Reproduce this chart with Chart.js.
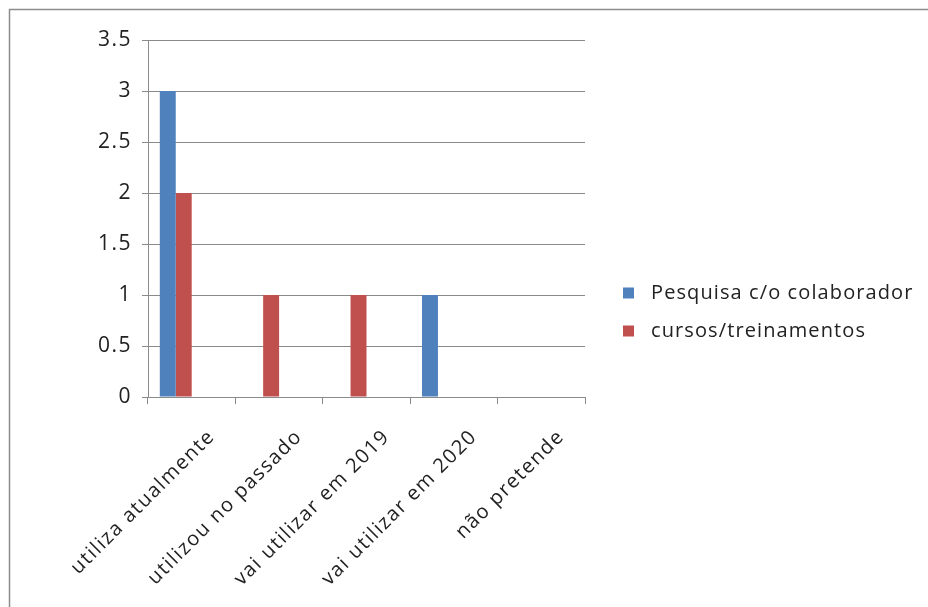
<!DOCTYPE html>
<html>
<head>
<meta charset="utf-8">
<script src="https://cdn.jsdelivr.net/npm/chart.js@4.4.1/dist/chart.umd.min.js"></script>
<style>
  html, body { margin: 0; padding: 0; background: #ffffff; }
  canvas { display: block; }
</style>
</head>
<body>
<canvas id="chart" width="928" height="607"></canvas>
<script>
// Categories and series values
const categories = ['utiliza atualmente', 'utilizou no passado', 'vai utilizar em 2019', 'vai utilizar em 2020', 'não pretende'];
const seriesNames = ['Pesquisa c/o colaborador', 'cursos/treinamentos'];
const pesquisaValues = [3, 0, 0, 1, 0];
const cursosValues = [2, 1, 1, 0, 0];
// The workbook series group has four slots; the last two hold no values
const emptySlotA = [0, 0, 0, 0, 0];
const emptySlotB = [0, 0, 0, 0, 0];
const yTickValues = [0, 0.5, 1, 1.5, 2, 2.5, 3, 3.5];

const BLUE = '#4f81bd';
const RED = '#c0504d';
const GRID = '#8a8a8a';
const TEXT = '#222222';
const FONT = "'Open Sans', 'Liberation Sans', sans-serif";

// Frame around the chart, a white background, and wider tracking for axis text
const framePlugin = {
  id: 'frame',
  beforeDraw(chart) {
    const ctx = chart.ctx;
    ctx.save();
    ctx.fillStyle = '#ffffff';
    ctx.fillRect(0, 0, chart.width, chart.height);
    ctx.strokeStyle = '#8c8c8c';
    ctx.lineWidth = 1.5;
    ctx.beginPath();
    ctx.moveTo(9.5, chart.height);
    ctx.lineTo(9.5, 9.5);
    ctx.lineTo(chart.width, 9.5);
    ctx.stroke();
    ctx.restore();
    ctx.letterSpacing = '1.5px';
  },
  beforeDatasetsDraw(chart) {
    chart.ctx.letterSpacing = '0px';
  }
};

// Legend to the right of the plot, built from the named datasets
const sideLegend = {
  id: 'sideLegend',
  afterDraw(chart) {
    const ctx = chart.ctx;
    const items = chart.data.datasets.filter(d => d.label);
    const x0 = 623, y0 = 293, rowGap = 38, box = 11;
    ctx.save();
    ctx.font = "20px " + FONT;
    ctx.letterSpacing = '1.1px';
    ctx.textBaseline = 'middle';
    ctx.textAlign = 'left';
    items.forEach((d, i) => {
      const y = y0 + i * rowGap;
      ctx.fillStyle = d.backgroundColor;
      ctx.fillRect(x0, y - box / 2, box, box);
      ctx.fillStyle = TEXT;
      ctx.fillText(d.label, x0 + 28, y);
    });
    ctx.restore();
  }
};

new Chart(document.getElementById('chart'), {
  type: 'bar',
  data: {
    labels: categories,
    datasets: [
      { label: seriesNames[0], data: pesquisaValues, backgroundColor: BLUE },
      { label: seriesNames[1], data: cursosValues, backgroundColor: RED },
      { label: '', data: emptySlotA, backgroundColor: 'rgba(0,0,0,0)' },
      { label: '', data: emptySlotB, backgroundColor: 'rgba(0,0,0,0)' }
    ]
  },
  options: {
    responsive: false,
    animation: false,
    devicePixelRatio: 1,
    layout: { padding: { left: 0, top: 40, right: 343, bottom: 0 } },
    datasets: {
      bar: { categoryPercentage: 0.73, barPercentage: 1.0, borderWidth: 0 }
    },
    plugins: {
      legend: { display: false },
      tooltip: { enabled: false },
      title: { display: false }
    },
    scales: {
      x: {
        grid: {
          display: true,
          offset: true,
          drawOnChartArea: false,
          drawTicks: true,
          tickLength: 7,
          color: GRID,
          lineWidth: 1
        },
        border: { display: true, color: GRID, width: 1 },
        ticks: {
          autoSkip: false,
          minRotation: 45,
          maxRotation: 45,
          color: TEXT,
          font: { family: FONT, size: 20 },
          padding: 21,
          labelOffset: 20
        },
        afterFit(scale) { scale.height = 210; }
      },
      y: {
        min: 0,
        max: 3.5,
        afterBuildTicks(scale) {
          scale.ticks = yTickValues.map(v => ({ value: v }));
        },
        grid: {
          color: GRID,
          lineWidth: 1,
          drawTicks: true,
          tickLength: 6
        },
        border: { display: true, color: GRID, width: 1 },
        ticks: {
          color: TEXT,
          font: { family: FONT, size: 21 },
          padding: 10,
          callback: (v) => String(v)
        },
        afterFit(scale) { scale.width = 148; }
      }
    }
  },
  plugins: [framePlugin, sideLegend]
});
</script>
</body>
</html>
